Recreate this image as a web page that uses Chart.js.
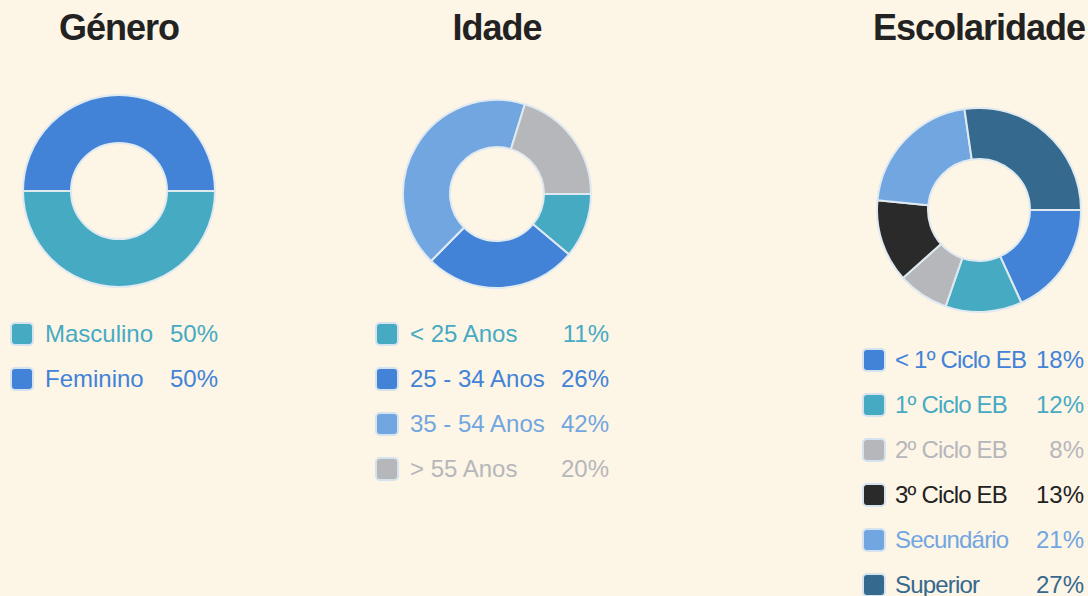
<!DOCTYPE html>
<html>
<head>
<meta charset="utf-8">
<script src="https://cdn.jsdelivr.net/npm/chart.js@4.4.1/dist/chart.umd.min.js"></script>
<style>
    body { margin: 0; background: #fdf5e6; font-family: "Liberation Sans", Arial, sans-serif; }
    #page { position: relative; width: 1088px; height: 596px; overflow: hidden; }
    .title { position: absolute; top: 8px; font-size: 36px; font-weight: bold; color: #222; letter-spacing: -1px; text-align: center; width: 300px; line-height: 40px; }
    .chart { position: absolute; }
    .legend { position: absolute; }
    .row { position: relative; height: 45px; display: flex; align-items: center; font-size: 24px; }
    .box { width: 20px; height: 20px; border: 2px solid #d5e3ee; border-radius: 5px; margin-right: 11px; flex: none; }
    .pct { position: absolute; right: 0; }
</style>
</head>
<body>
<div id="page"></div>
<script>
    // data
    const generoLabels = ["Masculino", "Feminino"];
    const generoValues = [50, 50];
    const generoColors = ["#46aac3", "#4283d7"];

    const idadeLabels = ["< 25 Anos", "25 - 34 Anos", "35 - 54 Anos", "> 55 Anos"];
    const idadeValues = [11, 26, 42, 20];
    const idadeColors = ["#46aac3", "#4283d7", "#72a6e0", "#b6b7bb"];

    const escolaridadeLabels = ["< 1º Ciclo EB", "1º Ciclo EB", "2º Ciclo EB", "3º Ciclo EB", "Secundário", "Superior"];
    const escolaridadeValues = [18, 12, 8, 13, 21, 27];
    const escolaridadeColors = ["#4283d7", "#46aac3", "#b6b7bb", "#2a2a2a", "#72a6e0", "#35698d"];

    const page = document.getElementById("page");

    // one column: title, doughnut, html legend
    const makeBlock = (cfg) => {
        const title = document.createElement("div");
        title.className = "title";
        title.style.left = (cfg.cx - 150) + "px";
        title.textContent = cfg.title;
        page.appendChild(title);

        const size = cfg.r * 2 + 2;
        const wrap = document.createElement("div");
        wrap.className = "chart";
        wrap.style.left = (cfg.cx - size / 2) + "px";
        wrap.style.top = (cfg.cy - size / 2) + "px";
        const canvas = document.createElement("canvas");
        canvas.width = size;
        canvas.height = size;
        wrap.appendChild(canvas);
        page.appendChild(wrap);

        new Chart(canvas.getContext("2d"), {
            type: "doughnut",
            data: {
                labels: cfg.labels,
                datasets: [{
                    data: cfg.values,
                    backgroundColor: cfg.colors,
                    borderColor: "#dfe9f0",
                    borderWidth: 2
                }]
            },
            options: {
                responsive: false,
                animation: false,
                rotation: 90,
                cutout: "50%",
                plugins: {
                    legend: { display: false },
                    tooltip: { enabled: false }
                }
            }
        });

        const legend = document.createElement("div");
        legend.className = "legend";
        legend.style.left = cfg.legLeft + "px";
        legend.style.top = cfg.legTop + "px";
        legend.style.width = cfg.legWidth + "px";
        cfg.labels.forEach((label, i) => {
            const color = cfg.textColors ? cfg.textColors[i] : cfg.colors[i];
            const row = document.createElement("div");
            row.className = "row";
            row.style.color = color;
            const box = document.createElement("div");
            box.className = "box";
            box.style.background = cfg.colors[i];
            if (cfg.gap) box.style.marginRight = cfg.gap;
            const text = document.createElement("span");
            text.textContent = label;
            if (cfg.squeeze) text.style.letterSpacing = cfg.squeeze;
            const pct = document.createElement("span");
            pct.className = "pct";
            pct.textContent = cfg.values[i] + "%";
            row.appendChild(box);
            row.appendChild(text);
            row.appendChild(pct);
            legend.appendChild(row);
        });
        page.appendChild(legend);
    };

    makeBlock({
        title: "Género", labels: generoLabels, values: generoValues, colors: generoColors,
        cx: 119, cy: 191, r: 96, legLeft: 10, legTop: 311, legWidth: 208
    });
    makeBlock({
        title: "Idade", labels: idadeLabels, values: idadeValues, colors: idadeColors,
        cx: 497, cy: 194, r: 94, legLeft: 375, legTop: 311, legWidth: 234
    });
    makeBlock({
        title: "Escolaridade", labels: escolaridadeLabels, values: escolaridadeValues, colors: escolaridadeColors,
        textColors: ["#4283d7", "#46aac3", "#b6b7bb", "#222222", "#72a6e0", "#35698d"],
        squeeze: "-0.8px", gap: "9px",
        cx: 979, cy: 210, r: 102, legLeft: 862, legTop: 337, legWidth: 222
    });
</script>
</body>
</html>
